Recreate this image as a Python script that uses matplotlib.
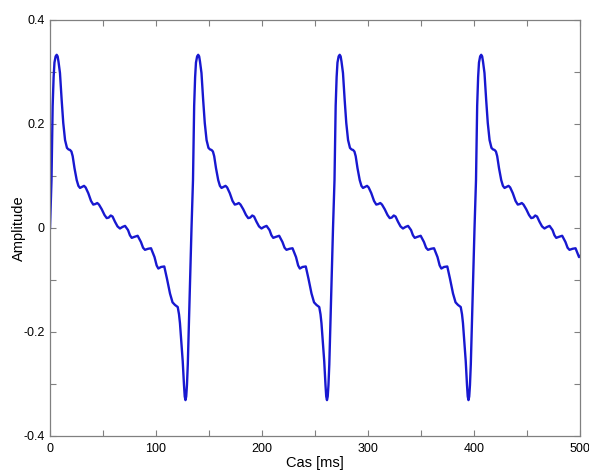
import matplotlib
matplotlib.use('Agg')

import matplotlib.pyplot as plt
import numpy as np

# one cycle of the signal (time from rising zero crossing, ms)
cycle_t = [0.0, 1.4, 2.5, 3.4, 4.2, 5.3, 6.3, 7.2, 8.0, 9.4, 11.0, 12.5, 14.2,
           16.0, 17.5, 18.9, 20.2, 21.4, 23.1, 25.2, 26.8, 28.3, 30.2, 32.1,
           33.6, 36.1, 38.7, 40.8, 42.7, 44.6, 46.2, 48.8, 51.4, 53.5, 55.4,
           57.3, 59.0, 61.3, 63.7, 66.0, 68.4, 70.8, 73.6, 75.4, 77.1, 79.7,
           82.7, 85.8, 87.8, 89.6, 92.5, 95.3, 98.6, 100.6, 102.2, 104.7,
           107.8, 110.4, 113.2, 115.6, 117.9, 120.5, 121.7, 122.6, 124.1,
           125.2, 126.4, 127.1, 127.8, 128.5, 129.2, 130.0, 131.1, 132.3]
cycle_v = [0.0, 0.092, 0.235, 0.290, 0.318, 0.330, 0.333, 0.330, 0.320, 0.298,
           0.246, 0.202, 0.169, 0.154, 0.151, 0.150, 0.147, 0.138, 0.115,
           0.092, 0.081, 0.077, 0.079, 0.081, 0.078, 0.067, 0.052, 0.045,
           0.046, 0.048, 0.045, 0.036, 0.025, 0.019, 0.020, 0.024, 0.022,
           0.012, 0.003, -0.001, 0.002, 0.004, -0.004, -0.014, -0.019,
           -0.017, -0.015, -0.027, -0.038, -0.042, -0.040, -0.039, -0.056,
           -0.072, -0.078, -0.075, -0.074, -0.098, -0.126, -0.143, -0.148,
           -0.152, -0.166, -0.183, -0.225, -0.256, -0.302, -0.324, -0.331,
           -0.324, -0.302, -0.262, -0.180, -0.090]
# rising zero crossings of each cycle (ms)
cycle_start = [0.0, 133.5, 267.0, 400.5]

x_ticks = [0, 50, 100, 150, 200, 250, 300, 350, 400, 450, 500]
x_labels = ['0', '', '100', '', '200', '', '300', '', '400', '', '500']
y_ticks = [-0.4, -0.3, -0.2, -0.1, 0, 0.1, 0.2, 0.3, 0.4]
y_labels = ['-0.4', '', '-0.2', '', '0', '', '0.2', '', '0.4']

t = []
v = []
for start in cycle_start:
    for ct, cv in zip(cycle_t, cycle_v):
        if start + ct <= 500:
            t.append(start + ct)
            v.append(cv)
# last sample at the right edge
t.append(500)
v.append(-0.054)

plt.rcParams['font.family'] = ['Liberation Sans', 'DejaVu Sans']

fig = plt.figure(figsize=(5.89, 4.72), dpi=100)
ax = fig.add_axes([0.0849, 0.0763, 0.8998, 0.8814])
ax.plot(t, v, color='#1818d0', linewidth=1.7, solid_joinstyle='round')

ax.set_xlim(0, 500)
ax.set_ylim(-0.4, 0.4)
ax.set_xticks(x_ticks)
ax.set_xticklabels(x_labels)
ax.set_yticks(y_ticks)
ax.set_yticklabels(y_labels)
ax.tick_params(direction='in', top=True, right=True, length=4, width=0.8,
               color='#808080', labelsize=9)
ax.tick_params(axis='x', pad=5)
ax.tick_params(axis='y', pad=4)
for s in ax.spines.values():
    s.set_color('#808080')
    s.set_linewidth(0.9)

ax.set_xlabel('Cas [ms]', fontsize=10.5, labelpad=1)
ax.set_ylabel('Amplitude', fontsize=10.5, labelpad=-2)

plt.savefig('out.png', dpi=100)
plt.close()
